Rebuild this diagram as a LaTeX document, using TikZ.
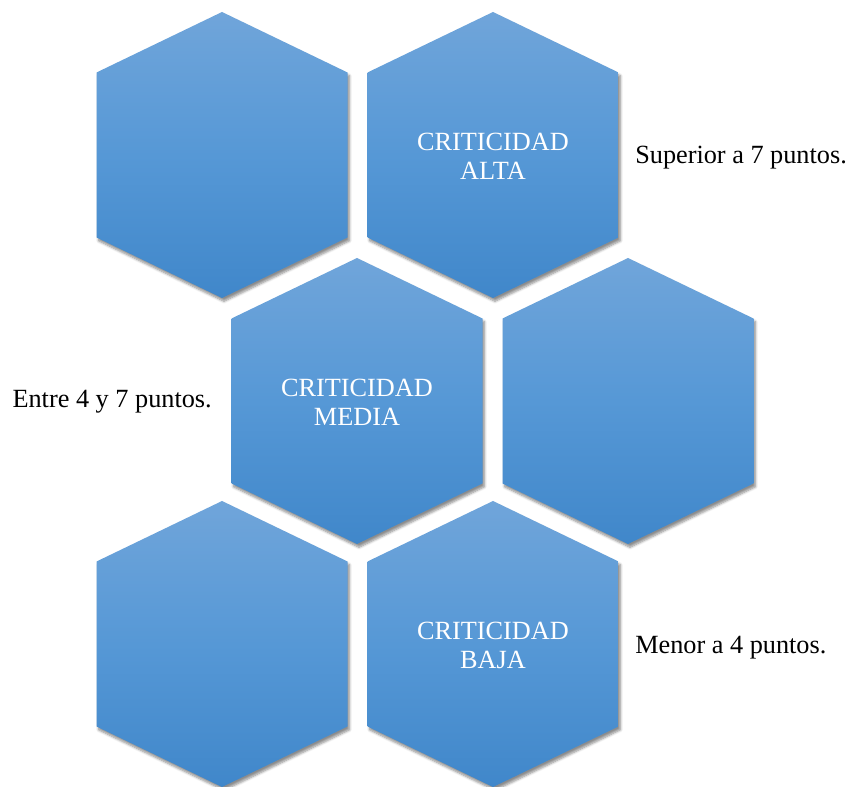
\documentclass[tikz,border=0pt]{standalone}
\usepackage{fontspec}
\setmainfont{Liberation Serif}
\usetikzlibrary{shadows.blur}

\definecolor{hexTop}{RGB}{112,165,218}
\definecolor{hexMid}{RGB}{86,152,214}
\definecolor{hexBot}{RGB}{64,135,202}

\tikzset{
	cell/.style={top color=hexTop, bottom color=hexBot, middle color=hexMid,
		blur shadow={shadow xshift=1.5pt, shadow yshift=-2.5pt, shadow blur steps=6, shadow opacity=45}},
	celltext/.style={text=white, align=center, inner sep=0pt, font=\fontsize{19.7}{22}\selectfont},
	note/.style={text=black, inner sep=0pt, font=\fontsize{19.7}{22}\selectfont}
}

\begin{document}
\begin{tikzpicture}[x=0.75pt, y=-0.75pt]
		\useasboundingbox (0,0) rectangle (851,787);
		% hexagon cells
		\foreach \n/\cx/\cy in {ha/222/155, hb/493/155, hc/357/401, hd/628/401, he/222/644, hf/493/644}{
				\path[cell] (\cx,{\cy-143}) -- ({\cx+125.5},{\cy-82.5}) -- ({\cx+125.5},{\cy+82.5})
				-- (\cx,{\cy+143}) -- ({\cx-125.5},{\cy+82.5}) -- ({\cx-125.5},{\cy-82.5}) -- cycle;
				\coordinate (\n) at (\cx,\cy);
			}
		% labels
		\node[celltext] (alta) at ([yshift=-1pt]hb) {CRITICIDAD\\ALTA};
		\node[celltext] (media) at ([yshift=-1pt]hc) {CRITICIDAD\\MEDIA};
		\node[celltext] (baja) at ([yshift=-1pt]hf) {CRITICIDAD\\BAJA};
		\node[note, anchor=base west] (sup) at (635,164) {Superior a 7 puntos.};
		\node[note, anchor=base east] (ent) at (212,408) {Entre 4 y 7 puntos.};
		\node[note, anchor=base west] (men) at (635,654) {Menor a 4 puntos.};
	\end{tikzpicture}
\end{document}
